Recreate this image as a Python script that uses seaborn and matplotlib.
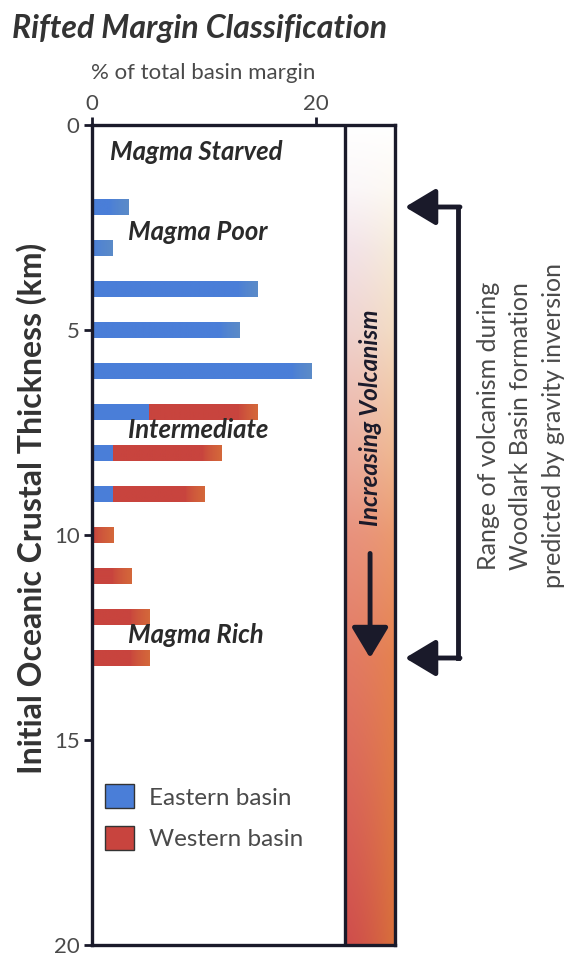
import numpy as np
import pandas as pd
import matplotlib
matplotlib.use("Agg")
import matplotlib.pyplot as plt
import seaborn as sns
from matplotlib.patches import Patch
from matplotlib.colors import to_rgb

# ---- data -------------------------------------------------------------
thickness_km = [2, 3, 4, 5, 6, 7, 8, 9, 10, 11, 12, 13]
eastern_pct = [3.3, 1.8, 14.8, 13.2, 19.6, 5.1, 1.9, 1.9, 0, 0, 0, 0]
western_pct = [0, 0, 0, 0, 0, 9.7, 9.7, 8.1, 1.9, 3.5, 5.1, 5.1]

margin_classes = ["Magma Starved", "Magma Poor", "Intermediate", "Magma Rich"]
class_depth_km = [0.66, 2.6, 7.44, 12.44]
x_ticks = [0, 20]
y_ticks = [0, 5, 10, 15, 20]
volcanism_range_km = [2, 13]
series_names = ["Eastern basin", "Western basin"]

# ---- style ------------------------------------------------------------
sns.set_theme(style="white")
plt.rcParams["font.family"] = ["Lato", "DejaVu Sans"]

BLUE = "#4a7ed8"
BLUE_TIP = "#5b8bc8"
RED = "#c8443e"
RED_TIP = "#d4683a"
INK = "#1a1a2a"
GREY = "#4a4a4a"

df = pd.DataFrame({
    "thickness": thickness_km,
    "eastern": eastern_pct,
    "western": western_pct,
})
df["total"] = df["eastern"] + df["western"]

fig = plt.figure(figsize=(5.67, 9.58), dpi=100)
ax = fig.add_axes([92 / 567, 1 - 945 / 958, 303 / 567, 820 / 958])

# stacked horizontal bars: full length in red, eastern share on top in blue
sns.barplot(data=df, x="total", y="thickness", orient="h", native_scale=True,
            color=RED, saturation=1, width=0.38, errorbar=None, ax=ax,
            linewidth=0, zorder=3)
sns.barplot(data=df, x="eastern", y="thickness", orient="h", native_scale=True,
            color=BLUE, saturation=1, width=0.38, errorbar=None, ax=ax,
            linewidth=0, zorder=4)

# soften the outer end of every bar with a short colour fade
n = len(df)
red_bars = ax.patches[:n]
blue_bars = ax.patches[n:2 * n]
fade_len = 1.7
for i in range(n):
    if df["western"].iloc[i] > 0:
        p, base, tip = red_bars[i], RED, RED_TIP
    else:
        p, base, tip = blue_bars[i], BLUE, BLUE_TIP
    x0, w = p.get_x(), p.get_width()
    if w <= 0:
        continue
    y0, h = p.get_y(), p.get_height()
    xs = np.linspace(x0, x0 + w, 200)
    t = np.clip((xs - (x0 + w - fade_len)) / fade_len, 0, 1) ** 0.7
    cb, ct = np.array(to_rgb(base)), np.array(to_rgb(tip))
    row = cb[None, :] * (1 - t[:, None]) + ct[None, :] * t[:, None]
    ax.imshow(row[None, :, :], extent=[x0, x0 + w, y0 + h, y0], origin="upper",
              aspect="auto", interpolation="bilinear", zorder=p.get_zorder() + 0.5)

# volcanism column with vertical colour ramp
x_col0, x_col1 = 22.6, 27.05
stops_y = [0, 1.5, 3, 5, 8, 10, 13, 20]
left_c = ["#ffffff", "#fbf7f9", "#f3e3e8", "#efd3cf", "#ecae9e", "#e8927e",
          "#e27a64", "#cf4e4c"]
right_c = ["#ffffff", "#fdf9f2", "#f6ecda", "#f3dcc2", "#efb890", "#eb9a6e",
           "#e5824e", "#d8703a"]
ny, nx = 400, 60
yy = np.linspace(0, 20, ny)
L = np.array([to_rgb(c) for c in left_c])
R = np.array([to_rgb(c) for c in right_c])
col_l = np.stack([np.interp(yy, stops_y, L[:, k]) for k in range(3)], axis=1)
col_r = np.stack([np.interp(yy, stops_y, R[:, k]) for k in range(3)], axis=1)
w = np.linspace(0, 1, nx) ** 1.5
img = col_l[:, None, :] * (1 - w[None, :, None]) + col_r[:, None, :] * w[None, :, None]
ax.imshow(img, extent=[x_col0, x_col1, 20, 0], origin="upper", aspect="auto",
          zorder=1, interpolation="bilinear")
ax.axvline(x_col0, color=INK, lw=2.4, zorder=5)

ax.set_xlim(0, x_col1)
ax.set_ylim(20, 0)
ax.set_aspect("auto")

# axes frame and ticks
for s in ax.spines.values():
    s.set_visible(True)
    s.set_color(INK)
    s.set_linewidth(2.4)
    s.set_zorder(6)
ax.xaxis.tick_top()
ax.set_xticks(x_ticks)
ax.set_yticks(y_ticks)
ax.tick_params(axis="x", which="both", top=True, bottom=False, direction="out",
               length=6, width=2, color=INK, labelsize=16, labelcolor=GREY, pad=2)
ax.tick_params(axis="y", left=True, direction="out", length=6, width=2,
               color=INK, labelsize=16, labelcolor=GREY, pad=3)
ax.set_xlabel("")
ax.set_ylabel("")
ax.grid(False)

# margin class labels
for name, d in zip(margin_classes, class_depth_km):
    x0 = 1.6 if name == "Magma Starved" else 3.2
    ax.text(x0, d, name, ha="left", va="center", fontsize=18.5,
            fontweight="bold", fontstyle="italic", color="#2a2a2a", zorder=7)

# legend
handles = [Patch(facecolor=BLUE, edgecolor="#333333", lw=1),
           Patch(facecolor=RED, edgecolor="#333333", lw=1)]
leg = ax.legend(handles, series_names, loc="upper left",
                bbox_to_anchor=(0.043, 0.196), frameon=False, fontsize=17.5,
                handlelength=1.2, handleheight=1.15, handletextpad=0.6,
                labelspacing=0.7, borderpad=0, borderaxespad=0)
for t in leg.get_texts():
    t.set_color(GREY)

# "Increasing Volcanism" annotation in the column
x_mid = (x_col0 + x_col1) / 2
ax.text(x_mid, 7.15, "Increasing Volcanism", rotation=90, ha="center",
        va="center", fontsize=17.5, fontweight="bold", fontstyle="italic",
        color=INK, zorder=7)
ax.annotate("", xy=(x_mid, 13.0), xytext=(x_mid, 10.45),
            arrowprops=dict(arrowstyle="-|>,head_length=0.75,head_width=0.45",
                            lw=3.5, color=INK, mutation_scale=25,
                            shrinkA=0, shrinkB=0), zorder=7)

# bracket marking the predicted range
x_tip, x_bar = 27.95, 32.7
for d in volcanism_range_km:
    ax.annotate("", xy=(x_tip, d), xytext=(x_bar + 0.15, d),
                arrowprops=dict(arrowstyle="-|>,head_length=0.75,head_width=0.45",
                                lw=3.5, color=INK, mutation_scale=25,
                                shrinkA=0, shrinkB=0),
                annotation_clip=False, zorder=7)
ax.plot([x_bar, x_bar], volcanism_range_km, color=INK, lw=3.5,
        clip_on=False, solid_capstyle="projecting", zorder=7)

fig.text(521 / 567, 1 - 426 / 958,
         "Range of volcanism during\nWoodlark Basin formation\npredicted by gravity inversion",
         rotation=90, ha="center", va="center", fontsize=18, color=GREY,
         linespacing=1.5, multialignment="center")

# titles
fig.text(12 / 567, 1 - 38 / 958, "Rifted Margin Classification", ha="left",
         va="baseline", fontsize=23, fontweight="bold", fontstyle="italic",
         color="#333333")
fig.text(203 / 567, 1 - 73 / 958, "% of total basin margin", ha="center",
         va="center", fontsize=16, color=GREY)
fig.text(32 / 567, 1 - 508 / 958, "Initial Oceanic Crustal Thickness (km)",
         rotation=90, ha="center", va="center", fontsize=23, fontweight="bold",
         color="#333333")

fig.savefig("out.png", dpi=100)
